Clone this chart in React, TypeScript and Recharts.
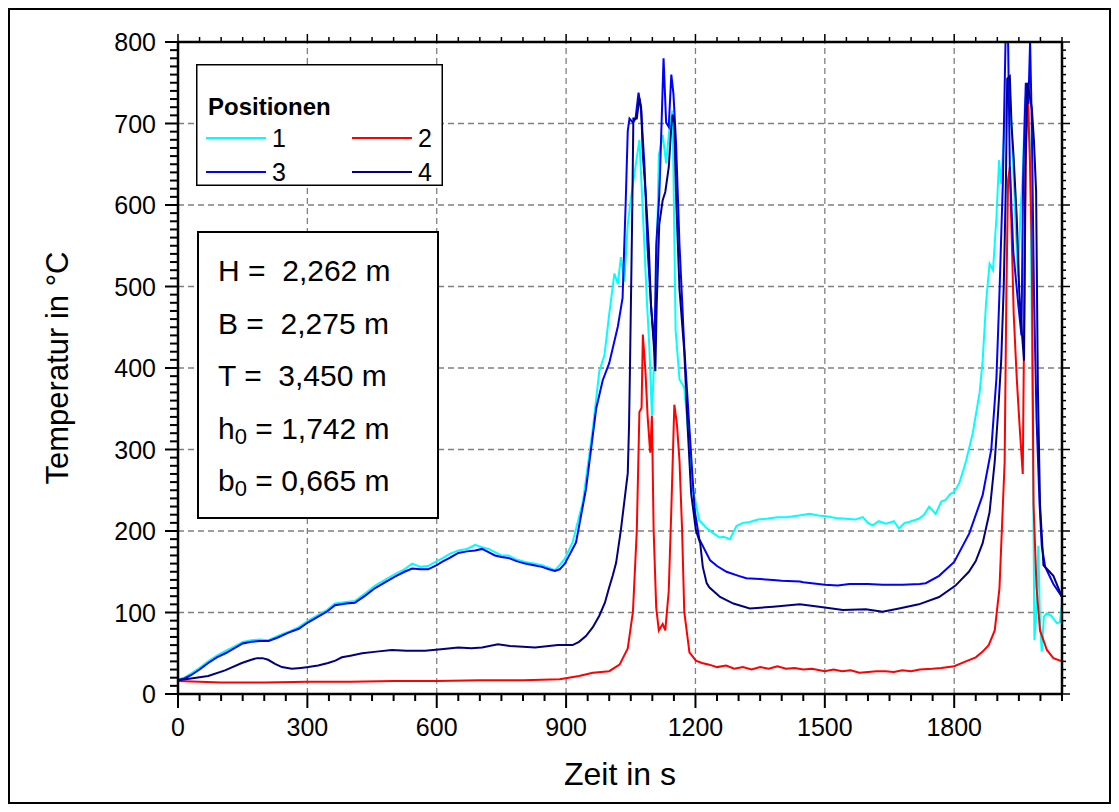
import { LineChart, Line, XAxis, YAxis, ReferenceLine } from 'recharts';

// Zeit in s / Temperatur in °C, je Messposition
const pos1Time = [0, 15, 30, 50, 70, 90, 110, 130, 150, 170, 190, 210, 230, 255, 280, 302, 325, 345, 364, 390, 410, 435, 457, 480, 503, 525, 543, 562, 580, 600, 612, 630, 650, 670, 689, 705, 720, 735, 750, 766, 785, 805, 825, 844, 860, 874, 885, 897, 915, 939, 962, 977, 989, 1000, 1012, 1020, 1027, 1035, 1043, 1051, 1062, 1070, 1078, 1087, 1093, 1099, 1107, 1115, 1124, 1132, 1140, 1147, 1154, 1163, 1174, 1186, 1194, 1209, 1225, 1242, 1256, 1265, 1280, 1295, 1310, 1326, 1345, 1365, 1390, 1411, 1440, 1465, 1485, 1503, 1525, 1549, 1570, 1588, 1600, 1611, 1625, 1642, 1660, 1672, 1685, 1695, 1718, 1730, 1742, 1757, 1770, 1780, 1790, 1800, 1812, 1827, 1843, 1859, 1866, 1874, 1882, 1890, 1898, 1904, 1909, 1917, 1925, 1933, 1943, 1948, 1954, 1959, 1964, 1970, 1976, 1982, 1986, 1991, 1995, 1999, 2003, 2008, 2015, 2025, 2038, 2045, 2050];
const pos1Temp = [18, 20, 25, 32, 40, 47, 53, 58, 64, 66, 67, 66, 71, 76, 82, 90, 97, 103, 111, 113, 114, 124, 133, 140, 147, 153, 160, 156, 157, 163, 166, 172, 176, 178, 183, 180, 178, 174, 170, 170, 165, 162, 160, 158, 155, 152, 158, 166, 186, 236, 326, 396, 416, 466, 516, 503, 536, 506, 576, 611, 651, 680, 591, 486, 426, 341, 446, 661, 686, 651, 696, 716, 446, 386, 376, 306, 251, 213, 204, 197, 192, 193, 190, 206, 210, 211, 214, 215, 217, 217, 219, 221, 219, 218, 216, 215, 214, 217, 210, 207, 212, 209, 212, 203, 210, 211, 215, 220, 230, 221, 236, 238, 245, 248, 259, 285, 320, 370, 409, 481, 528, 520, 585, 655, 626, 698, 755, 698, 569, 512, 595, 636, 724, 750, 673, 337, 66, 104, 182, 89, 52, 95, 99, 96, 87, 88, 110];

const pos2Time = [0, 100, 200, 300, 400, 500, 600, 700, 800, 885, 930, 962, 1000, 1024, 1043, 1055, 1064, 1070, 1075, 1078, 1084, 1089, 1095, 1099, 1103, 1109, 1115, 1124, 1130, 1138, 1144, 1151, 1157, 1163, 1169, 1174, 1186, 1201, 1215, 1232, 1250, 1271, 1290, 1310, 1330, 1350, 1370, 1390, 1410, 1430, 1450, 1470, 1500, 1520, 1540, 1560, 1580, 1600, 1620, 1640, 1660, 1680, 1700, 1720, 1749, 1770, 1800, 1827, 1850, 1866, 1880, 1894, 1905, 1917, 1921, 1925, 1929, 1933, 1938, 1945, 1952, 1959, 1962, 1966, 1970, 1976, 1980, 1984, 1991, 1999, 2015, 2030, 2050];
const pos2Temp = [16, 14, 14, 15, 15, 16, 16, 17, 17, 18, 22, 26, 28, 36, 56, 101, 201, 346, 351, 441, 396, 341, 296, 341, 201, 106, 78, 86, 78, 126, 226, 355, 331, 286, 201, 101, 51, 41, 38, 36, 33, 35, 31, 33, 30, 33, 31, 34, 31, 32, 30, 31, 28, 30, 28, 29, 26, 27, 28, 28, 27, 29, 28, 30, 31, 32, 34, 40, 45, 52, 60, 78, 130, 285, 492, 631, 647, 569, 466, 388, 326, 270, 440, 647, 745, 647, 543, 233, 130, 78, 54, 44, 40];

const pos3Time = [0, 15, 30, 50, 70, 90, 110, 130, 150, 170, 190, 210, 230, 255, 280, 302, 325, 345, 364, 390, 410, 435, 457, 480, 503, 525, 543, 562, 580, 600, 612, 630, 650, 670, 689, 705, 720, 735, 750, 766, 785, 805, 825, 844, 860, 874, 885, 897, 923, 946, 970, 985, 1000, 1020, 1031, 1038, 1043, 1047, 1055, 1061, 1068, 1074, 1082, 1089, 1097, 1105, 1109, 1116, 1120, 1126, 1132, 1138, 1144, 1149, 1155, 1163, 1174, 1186, 1198, 1209, 1234, 1250, 1272, 1300, 1318, 1350, 1380, 1400, 1442, 1450, 1500, 1530, 1557, 1600, 1634, 1680, 1720, 1734, 1765, 1800, 1835, 1866, 1886, 1898, 1905, 1913, 1919, 1925, 1929, 1937, 1948, 1956, 1960, 1966, 1972, 1976, 1980, 1985, 1991, 1998, 2003, 2011, 2030, 2050];
const pos3Temp = [17, 19, 23, 30, 38, 45, 50, 56, 62, 64, 65, 65, 69, 75, 80, 88, 95, 101, 109, 111, 112, 121, 130, 137, 144, 150, 154, 153, 153, 158, 162, 167, 173, 175, 176, 178, 174, 170, 168, 167, 163, 160, 158, 156, 153, 151, 153, 160, 186, 251, 351, 385, 406, 451, 486, 600, 691, 706, 701, 706, 738, 716, 646, 546, 476, 426, 551, 611, 676, 780, 701, 696, 760, 736, 676, 551, 426, 326, 226, 190, 164, 157, 150, 145, 142, 141, 140, 139, 138, 137, 134, 133, 135, 135, 134, 134, 135, 136, 145, 162, 197, 244, 300, 388, 492, 631, 800, 800, 647, 543, 481, 440, 636, 750, 724, 800, 698, 492, 337, 233, 182, 156, 135, 119];

const pos4Time = [0, 30, 70, 109, 148, 170, 183, 196, 209, 225, 241, 264, 285, 302, 325, 348, 365, 380, 400, 427, 460, 496, 530, 573, 610, 650, 680, 705, 742, 770, 800, 828, 860, 881, 900, 915, 930, 946, 962, 977, 990, 1000, 1008, 1016, 1027, 1035, 1043, 1046, 1048, 1053, 1056, 1064, 1070, 1074, 1078, 1085, 1092, 1097, 1103, 1107, 1110, 1116, 1124, 1130, 1138, 1144, 1147, 1151, 1155, 1163, 1174, 1182, 1190, 1201, 1211, 1217, 1226, 1232, 1257, 1288, 1326, 1380, 1442, 1500, 1542, 1595, 1634, 1672, 1718, 1765, 1803, 1834, 1850, 1866, 1882, 1894, 1902, 1909, 1915, 1920, 1923, 1929, 1933, 1938, 1945, 1951, 1956, 1962, 1965, 1970, 1980, 1985, 1990, 1994, 1999, 2007, 2030, 2050];
const pos4Temp = [17, 19, 22, 29, 38, 42, 44, 44, 42, 37, 33, 31, 32, 33, 35, 38, 41, 45, 47, 50, 52, 54, 53, 53, 55, 57, 56, 57, 61, 59, 58, 57, 59, 60, 60, 60, 64, 71, 82, 96, 112, 131, 145, 161, 201, 236, 271, 330, 396, 576, 706, 706, 731, 720, 661, 611, 546, 476, 431, 396, 476, 576, 606, 616, 646, 696, 711, 701, 611, 496, 421, 326, 246, 201, 185, 156, 136, 131, 119, 111, 105, 107, 110, 106, 103, 104, 101, 105, 110, 119, 133, 150, 163, 185, 223, 285, 347, 409, 502, 631, 755, 758, 698, 657, 585, 492, 450, 409, 647, 750, 719, 678, 616, 378, 233, 158, 145, 119];

const xMajorTicks = [0, 300, 600, 900, 1200, 1500, 1800];
const yMajorTicks = [0, 100, 200, 300, 400, 500, 600, 700, 800];
const xGridValues = [300, 600, 900, 1200, 1500, 1800];
const yGridValues = [100, 200, 300, 400, 500, 600, 700];
const xMinorTicks = Array.from({ length: 42 }, (_, i) => i * 50);
const yMinorTicks = Array.from({ length: 81 }, (_, i) => i * 10);

const series = [
  { name: '1', time: pos1Time, temp: pos1Temp, color: '#00ffff' },
  { name: '2', time: pos2Time, temp: pos2Temp, color: '#ff0000' },
  { name: '3', time: pos3Time, temp: pos3Temp, color: '#0000ff' },
  { name: '4', time: pos4Time, temp: pos4Temp, color: '#000080' },
];

const params = [
  { sym: 'H', sub: '', rest: ' =  2,262 m' },
  { sym: 'B', sub: '', rest: ' =  2,275 m' },
  { sym: 'T', sub: '', rest: ' =  3,450 m' },
  { sym: 'h', sub: '0', rest: ' = 1,742 m' },
  { sym: 'b', sub: '0', rest: ' = 0,665 m' },
];

const FONT = 'Arial, "Liberation Sans", sans-serif';

const BottomTick = (props: any) => {
  const { x, y, payload } = props;
  const major = payload.value % 300 === 0;
  return (
    <g>
      <line x1={x} y1={y} x2={x} y2={y + (major ? 14 : 7)} stroke="#000" strokeWidth={2} />
      {major && xMajorTicks.includes(payload.value) && (
        <text x={x} y={y + 42} textAnchor="middle" fontSize={25} fill="#000" fontFamily={FONT}>
          {payload.value}
        </text>
      )}
    </g>
  );
};

const TopTick = (props: any) => {
  const { x, y, payload } = props;
  const major = payload.value % 300 === 0;
  return <line x1={x} y1={y} x2={x} y2={y - (major ? 8 : 5)} stroke="#000" strokeWidth={1.5} />;
};

const LeftTick = (props: any) => {
  const { x, y, payload } = props;
  const major = payload.value % 100 === 0;
  return (
    <g>
      <line x1={x} y1={y} x2={x - (major ? 13 : 8)} y2={y} stroke="#000" strokeWidth={2} />
      {major && yMajorTicks.includes(payload.value) && (
        <text x={x - 22} y={y + 9} textAnchor="end" fontSize={25} fill="#000" fontFamily={FONT}>
          {payload.value}
        </text>
      )}
    </g>
  );
};

const RightTick = (props: any) => {
  const { x, y, payload } = props;
  const major = payload.value % 100 === 0;
  return <line x1={x} y1={y} x2={x + (major ? 8 : 4)} y2={y} stroke="#000" strokeWidth={1.5} />;
};

export default function App() {
  return (
    <div
      style={{
        position: 'relative',
        width: 1099,
        height: 792,
        border: '2px solid #000',
        fontFamily: FONT,
        background: '#fff',
      }}
    >
      <LineChart width={1099} height={792} margin={{ top: 22, right: 37, bottom: 18, left: 108 }}>
        <XAxis
          xAxisId={0}
          type="number"
          dataKey="t"
          domain={[0, 2050]}
          allowDataOverflow
          ticks={xMinorTicks}
          interval={0}
          height={90}
          tickLine={false}
          tickSize={0}
          tickMargin={0}
          axisLine={{ stroke: '#000', strokeWidth: 2.5 }}
          tick={(p: any) => <BottomTick {...p} />}
        />
        <XAxis
          xAxisId="top"
          orientation="top"
          type="number"
          dataKey="t"
          domain={[0, 2050]}
          allowDataOverflow
          ticks={xMinorTicks}
          interval={0}
          height={10}
          tickLine={false}
          tickSize={0}
          tickMargin={0}
          axisLine={{ stroke: '#000', strokeWidth: 2.5 }}
          tick={(p: any) => <TopTick {...p} />}
        />
        <YAxis
          yAxisId={0}
          type="number"
          domain={[0, 800]}
          allowDataOverflow
          ticks={yMinorTicks}
          interval={0}
          width={60}
          tickLine={false}
          tickSize={0}
          tickMargin={0}
          axisLine={{ stroke: '#000', strokeWidth: 2.5 }}
          tick={(p: any) => <LeftTick {...p} />}
        />
        <YAxis
          yAxisId="right"
          orientation="right"
          type="number"
          domain={[0, 800]}
          allowDataOverflow
          ticks={yMinorTicks}
          interval={0}
          width={10}
          tickLine={false}
          tickSize={0}
          tickMargin={0}
          axisLine={{ stroke: '#000', strokeWidth: 2.5 }}
          tick={(p: any) => <RightTick {...p} />}
        />
        {xGridValues.map((v) => (
          <ReferenceLine key={'gx' + v} x={v} stroke="#808080" strokeWidth={1.3} strokeDasharray="6 4" />
        ))}
        {yGridValues.map((v) => (
          <ReferenceLine key={'gy' + v} y={v} stroke="#808080" strokeWidth={1.3} strokeDasharray="6 4" />
        ))}
        {series.map((s) => (
          <Line
            key={s.name}
            data={s.time.map((t, i) => ({ t, v: s.temp[i] }))}
            dataKey="v"
            type="linear"
            stroke={s.color}
            strokeWidth={2}
            dot={false}
            activeDot={false}
            isAnimationActive={false}
          />
        ))}
      </LineChart>

      <svg
        width={1099}
        height={792}
        style={{ position: 'absolute', left: 0, top: 0, pointerEvents: 'none', overflow: 'visible' }}
        fontFamily={FONT}
      >
        {/* Legende */}
        <rect x={186.75} y={54.75} width={245.5} height={120.5} fill="#fff" stroke="#000" strokeWidth={1.5} />
        <text x={198} y={105} fontSize={24} fontWeight="bold">
          Positionen
        </text>
        {series.map((s, i) => {
          const col = i % 2;
          const row = Math.floor(i / 2);
          const lx = col === 0 ? 196 : 342;
          const ly = row === 0 ? 128 : 162;
          return (
            <g key={s.name}>
              <line x1={lx} y1={ly} x2={lx + 60} y2={ly} stroke={s.color} strokeWidth={2} />
              <text x={lx + 66} y={ly + 9} fontSize={25}>
                {s.name}
              </text>
            </g>
          );
        })}

        {/* Abmessungen */}
        <rect x={188} y={222} width={240} height={286} fill="#fff" stroke="#000" strokeWidth={2} />
        {params.map((p, i) => (
          <text key={p.sym} x={208} y={271 + i * 52.5} fontSize={30} style={{ whiteSpace: 'pre' }}>
            {p.sym}
            {p.sub && (
              <tspan fontSize={22} dy={5}>
                {p.sub}
              </tspan>
            )}
            <tspan dy={p.sub ? -5 : 0}>{p.rest}</tspan>
          </text>
        ))}

        <text
          x={47}
          y={358}
          fontSize={31}
          textAnchor="middle"
          dominantBaseline="central"
          transform="rotate(-90 47 358)"
        >
          Temperatur in °C
        </text>
        <text x={610} y={764} fontSize={32} textAnchor="middle" dominantBaseline="central">
          Zeit in s
        </text>
      </svg>
    </div>
  );
}
